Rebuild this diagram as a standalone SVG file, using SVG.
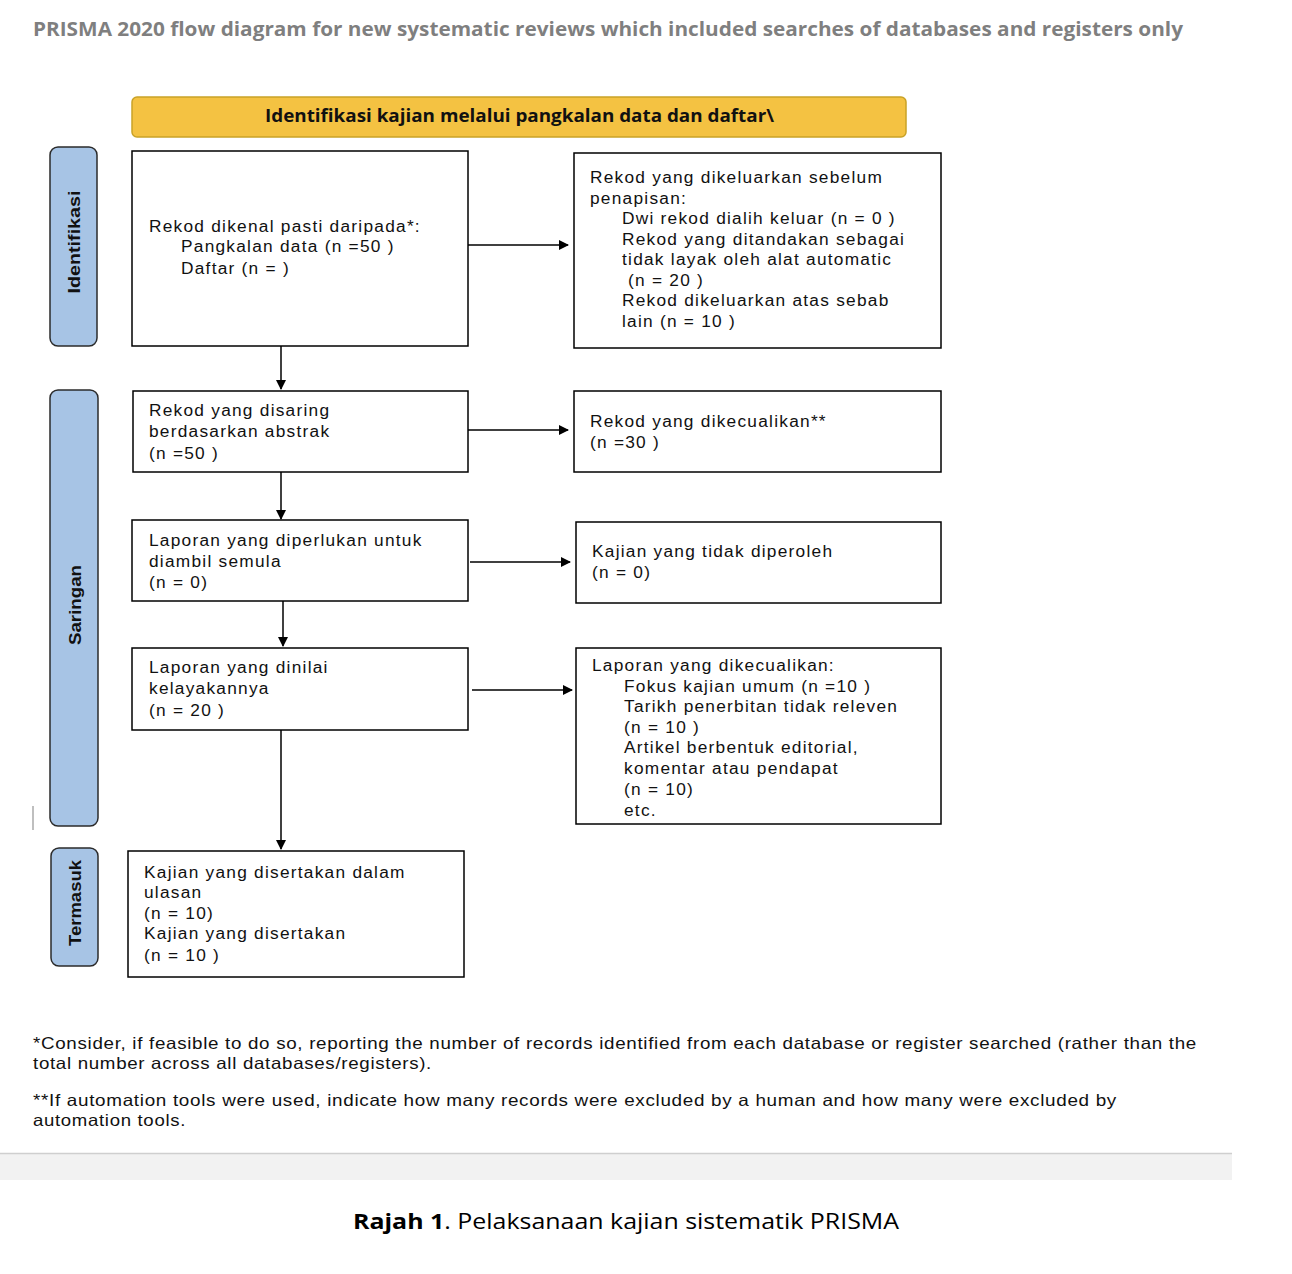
<svg xmlns="http://www.w3.org/2000/svg" width="1292" height="1274" viewBox="0 0 1292 1274">
<defs>
<marker id="ah" viewBox="0 0 10 10" refX="9" refY="5" markerWidth="10" markerHeight="10" markerUnits="userSpaceOnUse" orient="auto">
<path d="M0,0 L10,5 L0,10 z" fill="#000"/>
</marker>
<style>
.box{fill:#fff;stroke:#000;stroke-width:1.5}
.side{fill:#A7C4E5;stroke:#2b2b2b;stroke-width:1.5}
.t{font-family:"Liberation Sans",Arial,sans-serif;font-size:17.3px;letter-spacing:1.25px;fill:#111}
.sl{font-family:"Liberation Sans",Arial,sans-serif;font-size:17px;font-weight:bold;fill:#111}
.fn{font-family:"Liberation Sans",Arial,sans-serif;font-size:16.5px;letter-spacing:0.6px;fill:#111}
.con{stroke:#000;stroke-width:1.5;fill:none;marker-end:url(#ah)}
</style>
</defs>
<rect width="1292" height="1274" fill="#fff"/>
<text x="33" y="36" font-family="'Open Sans','Liberation Sans',sans-serif" font-weight="bold" font-size="19" fill="#7f7f7f" textLength="1150" lengthAdjust="spacingAndGlyphs">PRISMA 2020 flow diagram for new systematic reviews which included searches of databases and registers only</text>

<g id="header">
<rect x="132" y="97" width="774" height="40" rx="5" fill="#F4C242" stroke="#C9A227" stroke-width="1.5"/>
<text x="519.5" y="122" text-anchor="middle" font-family="'Open Sans','Liberation Sans',sans-serif" font-weight="bold" font-size="17" fill="#111" textLength="509" lengthAdjust="spacingAndGlyphs">Identifikasi kajian melalui pangkalan data dan daftar\</text>
</g>

<g id="side-identifikasi">
<rect class="side" x="50" y="147" width="47" height="199" rx="8"/>
<text class="sl" transform="translate(80,242) rotate(-90)" text-anchor="middle" textLength="103" lengthAdjust="spacingAndGlyphs">Identifikasi</text>
</g>
<g id="side-saringan">
<rect class="side" x="50" y="390" width="48" height="436" rx="8"/>
<text class="sl" transform="translate(81,605) rotate(-90)" text-anchor="middle" textLength="80" lengthAdjust="spacingAndGlyphs">Saringan</text>
</g>
<g id="side-termasuk">
<rect class="side" x="51" y="848" width="47" height="118" rx="8"/>
<text class="sl" transform="translate(81,903) rotate(-90)" text-anchor="middle" textLength="86" lengthAdjust="spacingAndGlyphs">Termasuk</text>
</g>
<line x1="33" y1="806" x2="33" y2="830" stroke="#aaa" stroke-width="1.5"/>

<g id="b1">
<rect class="box" x="132" y="151" width="336" height="195"/>
<text class="t" x="149" y="232">Rekod dikenal pasti daripada*:</text>
<text class="t" x="181" y="252">Pangkalan data (n =50 )</text>
<text class="t" x="181" y="274">Daftar (n = )</text>
</g>
<g id="b2">
<rect class="box" x="574" y="153" width="367" height="195"/>
<text class="t" x="590" y="183">Rekod yang dikeluarkan sebelum</text>
<text class="t" x="590" y="204">penapisan:</text>
<text class="t" x="622" y="224">Dwi rekod dialih keluar  (n = 0 )</text>
<text class="t" x="622" y="245">Rekod yang ditandakan sebagai</text>
<text class="t" x="622" y="265">tidak layak oleh alat automatic</text>
<text class="t" x="628" y="286">(n = 20 )</text>
<text class="t" x="622" y="306">Rekod dikeluarkan atas sebab</text>
<text class="t" x="622" y="327">lain (n = 10 )</text>
</g>
<g id="b3">
<rect class="box" x="133" y="391" width="335" height="81"/>
<text class="t" x="149" y="416">Rekod yang disaring</text>
<text class="t" x="149" y="437">berdasarkan abstrak</text>
<text class="t" x="149" y="459">(n =50 )</text>
</g>
<g id="b4">
<rect class="box" x="574" y="391" width="367" height="81"/>
<text class="t" x="590" y="427">Rekod yang dikecualikan**</text>
<text class="t" x="590" y="448">(n =30 )</text>
</g>
<g id="b5">
<rect class="box" x="132" y="520" width="336" height="81"/>
<text class="t" x="149" y="546">Laporan yang diperlukan untuk</text>
<text class="t" x="149" y="567">diambil semula</text>
<text class="t" x="149" y="588">(n = 0)</text>
</g>
<g id="b6">
<rect class="box" x="576" y="522" width="365" height="81"/>
<text class="t" x="592" y="557">Kajian yang tidak diperoleh</text>
<text class="t" x="592" y="578">(n = 0)</text>
</g>
<g id="b7">
<rect class="box" x="132" y="648" width="336" height="82"/>
<text class="t" x="149" y="673">Laporan yang dinilai</text>
<text class="t" x="149" y="694">kelayakannya</text>
<text class="t" x="149" y="716">(n = 20 )</text>
</g>
<g id="b8">
<rect class="box" x="576" y="648" width="365" height="176"/>
<text class="t" x="592" y="671">Laporan yang dikecualikan:</text>
<text class="t" x="624" y="692">Fokus kajian umum (n =10 )</text>
<text class="t" x="624" y="712">Tarikh penerbitan tidak releven</text>
<text class="t" x="624" y="733">(n = 10 )</text>
<text class="t" x="624" y="753">Artikel berbentuk editorial,</text>
<text class="t" x="624" y="774">komentar atau pendapat</text>
<text class="t" x="624" y="795">(n = 10)</text>
<text class="t" x="624" y="816">etc.</text>
</g>
<g id="b9">
<rect class="box" x="128" y="851" width="336" height="126"/>
<text class="t" x="144" y="878">Kajian yang disertakan dalam</text>
<text class="t" x="144" y="898">ulasan</text>
<text class="t" x="144" y="919">(n = 10)</text>
<text class="t" x="144" y="939">Kajian yang disertakan</text>
<text class="t" x="144" y="961">(n = 10 )</text>
</g>

<g id="connectors">
<line class="con" x1="468" y1="245" x2="568" y2="245"/>
<line class="con" x1="468" y1="430" x2="568" y2="430"/>
<line class="con" x1="470" y1="562" x2="570" y2="562"/>
<line class="con" x1="472" y1="690" x2="572" y2="690"/>
<line class="con" x1="281" y1="346" x2="281" y2="389"/>
<line class="con" x1="281" y1="472" x2="281" y2="519"/>
<line class="con" x1="283" y1="601" x2="283" y2="646"/>
<line class="con" x1="281" y1="730" x2="281" y2="849"/>
</g>

<text class="fn" x="33" y="1049" textLength="1164" lengthAdjust="spacingAndGlyphs">*Consider, if feasible to do so, reporting the number of records identified from each database or register searched (rather than the</text>
<text class="fn" x="33" y="1069" textLength="399" lengthAdjust="spacingAndGlyphs">total number across all databases/registers).</text>
<text class="fn" x="33" y="1106" textLength="1084" lengthAdjust="spacingAndGlyphs">**If automation tools were used, indicate how many records were excluded by a human and how many were excluded by</text>
<text class="fn" x="33" y="1126" textLength="153" lengthAdjust="spacingAndGlyphs">automation tools.</text>

<rect x="0" y="1153" width="1232" height="27" fill="#f2f2f2"/>
<line x1="0" y1="1153.5" x2="1232" y2="1153.5" stroke="#cfcfcf" stroke-width="1.5"/>

<text x="626" y="1229" text-anchor="middle" font-family="'Open Sans','Liberation Sans',sans-serif" font-size="22" fill="#000" textLength="546" lengthAdjust="spacingAndGlyphs"><tspan font-weight="bold">Rajah 1</tspan>. Pelaksanaan kajian sistematik PRISMA</text>
</svg>
